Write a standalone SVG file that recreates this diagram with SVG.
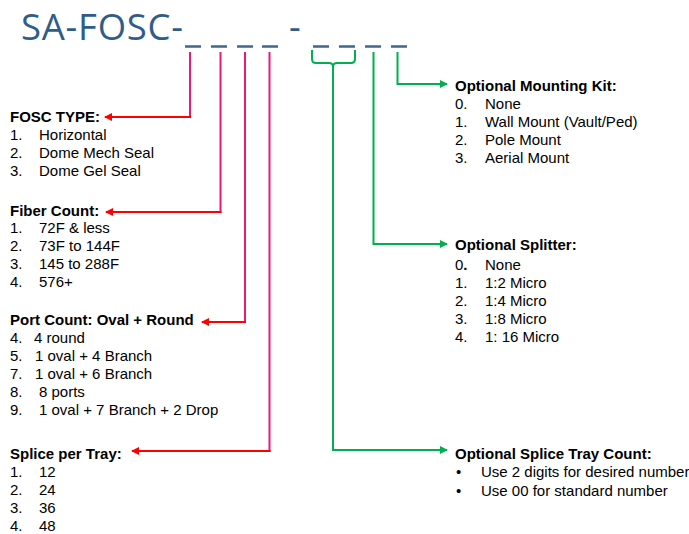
<svg xmlns="http://www.w3.org/2000/svg" width="689" height="534" viewBox="0 0 689 534">
<style>
.title{font-family:"Open Sans","Liberation Sans",sans-serif;font-size:36.5px;fill:#2F5D8A}
.h{font-family:"Liberation Sans",Arial,sans-serif;font-size:15px;font-weight:bold;fill:#000}
.t{font-family:"Liberation Sans",Arial,sans-serif;font-size:15px;fill:#000}
.dash{stroke:#3B6791;stroke-width:2.5;fill:none}
.pink{stroke:#E8197A;stroke-width:2;fill:none}
.red{stroke:#FF0000;stroke-width:2;fill:none}
.green{stroke:#00B050;stroke-width:2;fill:none}
</style>
<defs>
<marker id="ar" markerUnits="userSpaceOnUse" markerWidth="8" markerHeight="8" refX="7" refY="4" orient="auto"><path d="M0,0 L8,4 L0,8 z" fill="#FF0000"/></marker>
<marker id="ag" markerUnits="userSpaceOnUse" markerWidth="8" markerHeight="8" refX="7" refY="4" orient="auto"><path d="M0,0 L8,4 L0,8 z" fill="#00B050"/></marker>
</defs>
<g id="title">
<text class="title" x="21" y="39.5" textLength="162" lengthAdjust="spacing">SA-FOSC-</text>
<text class="title" x="289" y="39.5">-</text>
<g class="dash">
<line x1="185" y1="46.5" x2="201" y2="46.5"/>
<line x1="211" y1="46.5" x2="227" y2="46.5"/>
<line x1="237" y1="46.5" x2="253" y2="46.5"/>
<line x1="262" y1="46.5" x2="278" y2="46.5"/>
<line x1="313" y1="46.5" x2="329" y2="46.5"/>
<line x1="339" y1="46.5" x2="355" y2="46.5"/>
<line x1="365" y1="46.5" x2="381" y2="46.5"/>
<line x1="391" y1="46.5" x2="407" y2="46.5"/>
</g>
</g>
<g id="connectors">
<line class="pink" x1="190" y1="52" x2="190" y2="118"/>
<line class="red" x1="191" y1="117" x2="105" y2="117" marker-end="url(#ar)"/>
<line class="pink" x1="220.5" y1="52" x2="220.5" y2="213"/>
<line class="red" x1="221.5" y1="212" x2="106" y2="212" marker-end="url(#ar)"/>
<line class="pink" x1="245" y1="52" x2="245" y2="323"/>
<line class="red" x1="246" y1="322" x2="202" y2="322" marker-end="url(#ar)"/>
<line class="pink" x1="269.5" y1="52" x2="269.5" y2="452"/>
<line class="red" x1="270.5" y1="451" x2="132" y2="451" marker-end="url(#ar)"/>
<path class="green" d="M312,50 V59 Q312,63 316,63 H329 Q333,63 333,67 M355,50 V59 Q355,63 351,63 H337 Q333,63 333,67 V450 H447" marker-end="url(#ag)"/>
<path class="green" d="M373.5,52 V244 H447" marker-end="url(#ag)"/>
<path class="green" d="M397.5,52 V84 H447" marker-end="url(#ag)"/>
</g>
<g id="fosc-type">
<text class="h" x="10" y="122">FOSC TYPE:</text>
<text class="t" x="10" y="140">1.</text><text class="t" x="39" y="140">Horizontal</text>
<text class="t" x="10" y="158">2.</text><text class="t" x="39" y="158">Dome Mech Seal</text>
<text class="t" x="10" y="176">3.</text><text class="t" x="39" y="176">Dome Gel Seal</text>
</g>
<g id="fiber-count">
<text class="h" x="10" y="216">Fiber Count:</text>
<text class="t" x="10" y="233">1.</text><text class="t" x="39" y="233">72F &amp; less</text>
<text class="t" x="10" y="251">2.</text><text class="t" x="39" y="251">73F to 144F</text>
<text class="t" x="10" y="269">3.</text><text class="t" x="39" y="269">145 to 288F</text>
<text class="t" x="10" y="287">4.</text><text class="t" x="39" y="287">576+</text>
</g>
<g id="port-count">
<text class="h" x="10" y="325">Port Count: Oval + Round</text>
<text class="t" x="10" y="343">4.</text><text class="t" x="34" y="343">4 round</text>
<text class="t" x="10" y="361">5.</text><text class="t" x="35" y="361">1 oval + 4 Branch</text>
<text class="t" x="10" y="379">7.</text><text class="t" x="35" y="379">1 oval + 6 Branch</text>
<text class="t" x="10" y="397">8.</text><text class="t" x="39" y="397">8 ports</text>
<text class="t" x="10" y="415">9.</text><text class="t" x="39" y="415">1 oval + 7 Branch + 2 Drop</text>
</g>
<g id="splice-per-tray">
<text class="h" x="10" y="459">Splice per Tray:</text>
<text class="t" x="10" y="477">1.</text><text class="t" x="39" y="477">12</text>
<text class="t" x="10" y="495">2.</text><text class="t" x="39" y="495">24</text>
<text class="t" x="10" y="513">3.</text><text class="t" x="39" y="513">36</text>
<text class="t" x="10" y="531">4.</text><text class="t" x="39" y="531">48</text>
</g>
<g id="mounting-kit">
<text class="h" x="455" y="91">Optional Mounting Kit:</text>
<text class="t" x="455" y="109">0.</text><text class="t" x="485" y="109">None</text>
<text class="t" x="455" y="127">1.</text><text class="t" x="485" y="127">Wall Mount (Vault/Ped)</text>
<text class="t" x="455" y="145">2.</text><text class="t" x="485" y="145">Pole Mount</text>
<text class="t" x="455" y="163">3.</text><text class="t" x="485" y="163">Aerial Mount</text>
</g>
<g id="splitter">
<text class="h" x="455" y="250">Optional Splitter:</text>
<text class="t" x="455" y="270">0<tspan font-weight="bold">.</tspan></text><text class="t" x="485" y="270">None</text>
<text class="t" x="455" y="288">1.</text><text class="t" x="485" y="288">1:2 Micro</text>
<text class="t" x="455" y="306">2.</text><text class="t" x="485" y="306">1:4 Micro</text>
<text class="t" x="455" y="324">3.</text><text class="t" x="485" y="324">1:8 Micro</text>
<text class="t" x="455" y="342">4.</text><text class="t" x="485" y="342">1: 16 Micro</text>
</g>
<g id="splice-tray-count">
<text class="h" x="455" y="459">Optional Splice Tray Count:</text>
<text class="t" x="456" y="477">•</text><text class="t" x="481" y="477">Use 2 digits for desired number</text>
<text class="t" x="456" y="496">•</text><text class="t" x="481" y="496">Use 00 for standard number</text>
</g>
</svg>
